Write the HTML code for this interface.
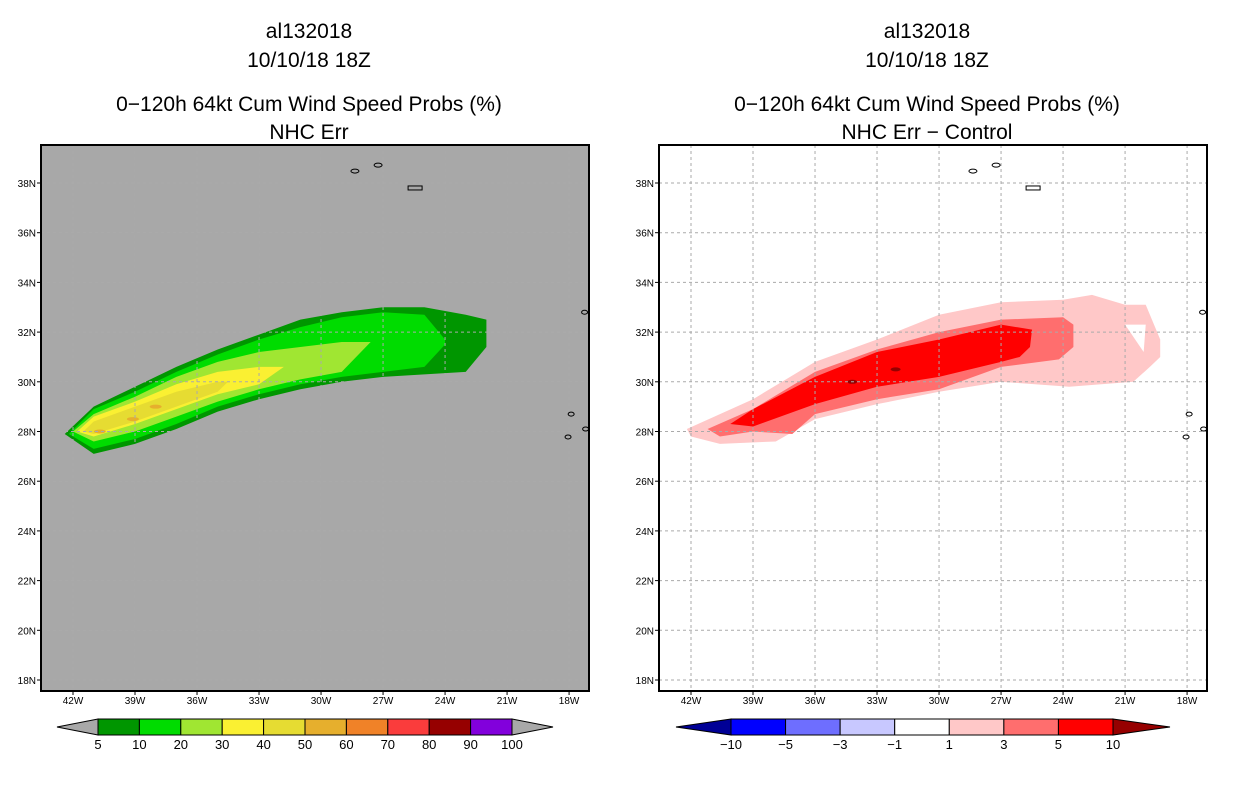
<!DOCTYPE html>
<html><head><meta charset="utf-8"><style>
body{margin:0;background:#fff;}
svg{display:block;font-family:"Liberation Sans",sans-serif;}
</style></head><body>
<svg id="s" width="1236" height="800"></svg>
<script>
// ---------- data ----------
const lonTicks=[-42,-39,-36,-33,-30,-27,-24,-21,-18];
const latTicks=[18,20,22,24,26,28,30,32,34,36,38];
const leftLevels=[5,10,20,30,40,50,60,70,80,90,100];
const leftColors=["#009600","#00dc00","#a0e632","#faf032","#e6dc32","#e6af2d","#f08228","#fa3c3c","#960000","#8200dc"];
const rightLevels=[-10,-5,-3,-1,1,3,5,10];
const rightColors=["#0000ff","#6e6eff","#c8c8ff","#ffffff","#ffc8c8","#ff6e6e","#ff0000"];
// left contour bands: lon array, top lat, bottom lat
const p5lon=[-42.4,-41,-39,-37,-35,-33,-31,-29,-27,-25,-23,-22];
const p5top=[27.9,29.0,29.8,30.6,31.3,31.9,32.5,32.8,33.0,33.0,32.7,32.5];
const p5bot=[27.9,27.1,27.5,28.1,28.8,29.3,29.7,30.0,30.2,30.3,30.4,31.4];
const p10lon=[-42.2,-41,-39,-37,-35,-33,-31,-29,-27,-25,-24];
const p10top=[27.9,28.9,29.6,30.4,31.1,31.7,32.2,32.6,32.8,32.7,31.7];
const p10bot=[27.9,27.3,27.7,28.3,29.0,29.5,29.9,30.2,30.4,30.6,31.5];
const p20lon=[-42,-41,-39,-37,-35,-33,-31,-29,-27.6];
const p20top=[28.0,28.7,29.4,30.2,30.8,31.2,31.4,31.6,31.6];
const p20bot=[28.0,27.6,28.0,28.6,29.2,29.7,30.1,30.4,31.6];
const p30lon=[-41.8,-41,-39,-37,-35,-33,-31.8];
const p30top=[28.0,28.6,29.2,29.9,30.4,30.6,30.6];
const p30bot=[28.0,27.8,28.3,28.9,29.5,29.9,30.6];
const p40lon=[-41.5,-41,-39,-37,-35,-34.5];
const p40top=[28.0,28.4,29.0,29.6,30.0,30.0];
const p40bot=[28.0,27.9,28.4,29.0,29.6,30.0];
const p50lon=[-40.7,-39.1,-38.0];
const p50lat=[28.0,28.5,29.0];
// right difference contours (closed polygons lon/lat)
const d1lon=[-42.2,-39,-36,-33,-30,-27,-24,-22.6,-21,-20,-19.3,-19.3,-19.8,-20.6,-23.7,-27,-30,-33,-36,-37.9,-40.6,-42];
const d1lat=[28.1,29.3,30.8,31.7,32.7,33.2,33.3,33.5,33.1,33.1,31.7,31.0,30.6,30.0,29.8,30.0,29.6,29.1,28.5,27.6,27.5,27.8];
const holeLon=[-21.0,-20.0,-20.1];
const holeLat=[32.3,32.3,31.2];
const d3lon=[-41.2,-39,-36,-33,-30,-27,-24,-23.5,-23.5,-24.2,-27,-30,-33,-36,-37.1,-39,-40.6];
const d3lat=[28.1,28.9,30.4,31.3,32.0,32.5,32.6,32.3,31.4,30.9,30.6,29.7,29.3,28.7,27.9,28.0,27.8];
const d5lon=[-40.1,-39,-36,-33,-30,-27,-25.5,-25.6,-26.1,-27,-30,-33,-36,-39];
const d5lat=[28.3,28.9,30.2,31.2,31.7,32.3,32.1,31.4,31.0,30.8,30.2,29.8,29.1,28.2];
const d10lon=[-32.1,-34.2];
const d10lat=[30.5,30.0];
// islands
const isLon=[-28.36,-27.24,-17.9,-18.05,-17.2,-17.25];
const isLat=[38.48,38.72,28.7,27.78,28.1,32.8];

// ---------- drawing ----------
const NS="http://www.w3.org/2000/svg";
const svg=document.getElementById('s');
function mk(tag,attrs,parent){const e=document.createElementNS(NS,tag);for(const k in attrs)e.setAttribute(k,attrs[k]);(parent||svg).appendChild(e);return e;}
function txt(x,y,s,size,anchor,parent){const t=mk('text',{x:x,y:y,'font-size':size,'text-anchor':anchor||'middle',fill:'#000'},parent);t.textContent=s;return t;}

function panel(ox,bg,titleLines,name){
  const g=mk('g',{});
  
  
  const L=ox, R=ox+548, T=145, B=691;
  const X=lon=>ox+32+(lon+42)*20.67;
  const Y=lat=>680-(lat-18)*24.85;
  const cx=ox+268;
  titleLines.forEach((s,i)=>{const t=txt(cx,[38,67,111,139][i],s,21,'middle',g);
    
    });
  const clip=mk('clipPath',{id:'c'+name},g);mk('rect',{x:L,y:T,width:548,height:546},clip);
  const pa=mk('g',{'clip-path':'url(#c'+name+')'},g);
  mk('rect',{x:L,y:T,width:548,height:546,fill:bg},pa);
  return {g,pa,X,Y,L,R,T,B};
}
function band(p,lons,top,bot,color,name){
  const pts=[];
  for(let i=0;i<lons.length;i++)pts.push(p.X(lons[i])+','+p.Y(top[i]));
  for(let i=lons.length-1;i>=0;i--)pts.push(p.X(lons[i])+','+p.Y(bot[i]));
  const e=mk('polygon',{points:pts.join(' '),fill:color},p.pa);
  
  
}
function poly(p,lons,lats,color,name){
  const pts=lons.map((l,i)=>p.X(l)+','+p.Y(lats[i]));
  const e=mk('polygon',{points:pts.join(' '),fill:color},p.pa);
  
  
}
function blobs(p,lons,lats,color,name,rx){
  lons.forEach((l,i)=>{const e=mk('ellipse',{cx:p.X(l),cy:p.Y(lats[i]),rx:rx,ry:2,fill:color},p.pa);
    
    });
}
function finish(p,gridColor){
  lonTicks.forEach(l=>{const e=mk('line',{x1:p.X(l),x2:p.X(l),y1:p.T,y2:p.B,stroke:gridColor,'stroke-width':1,'stroke-dasharray':'3,3'},p.pa);
    
    });
  latTicks.forEach(l=>{const e=mk('line',{x1:p.L,x2:p.R,y1:p.Y(l),y2:p.Y(l),stroke:gridColor,'stroke-width':1,'stroke-dasharray':'3,3'},p.pa);
    
    });
  isLon.forEach((l,i)=>{const w=(i===1||i===0)?4:3;const e=mk('ellipse',{cx:p.X(l),cy:p.Y(isLat[i]),rx:w,ry:2,fill:'none',stroke:'#000','stroke-width':1},p.pa);
    
    });
  const e2=mk('rect',{x:p.X(-25.45)-7,y:p.Y(37.8)-2,width:14,height:4,fill:'none',stroke:'#000','stroke-width':1},p.pa);
  
  
  const fr=mk('rect',{x:p.L,y:p.T,width:548,height:546,fill:'none',stroke:'#000','stroke-width':2},p.g);
  
  
  lonTicks.forEach(l=>{mk('line',{x1:p.X(l),x2:p.X(l),y1:p.B,y2:p.B+4,stroke:'#000'},p.g);
    const t=txt(p.X(l),p.B+13,(-l)+'W',10,'middle',p.g);
    
    });
  latTicks.forEach(l=>{mk('line',{x1:p.L-4,x2:p.L,y1:p.Y(l),y2:p.Y(l),stroke:'#000'},p.g);
    const t=txt(p.L-5,p.Y(l)+4,l+'N',10,'end',p.g);
    
    });
}
function colorbar(x0,w,levels,colors,leftArrow,rightArrow,arrowL,arrowR,name){
  const g=mk('g',{});
  
  
  const y0=719,h=16,n=colors.length,seg=w/n;
  mk('polygon',{points:`${x0},${y0} ${x0-arrowL},${y0+h/2} ${x0},${y0+h}`,fill:leftArrow,stroke:'#000','stroke-width':1},g);
  mk('polygon',{points:`${x0+w},${y0} ${x0+w+arrowR},${y0+h/2} ${x0+w},${y0+h}`,fill:rightArrow,stroke:'#000','stroke-width':1},g);
  colors.forEach((c,i)=>{mk('rect',{x:x0+i*seg,y:y0,width:seg,height:h,fill:c,stroke:'#000','stroke-width':1},g);});
  levels.forEach((v,i)=>{const t=txt(x0+i*seg,y0+h+14,v<0?'\u2212'+(-v):String(v),13,'middle',g);
    
    });
}

// left panel
const pl=panel(41,'#a8a8a8',['al132018','10/10/18 18Z','0\u2212120h 64kt Cum Wind Speed Probs (%)','NHC Err'],'left-panel');
band(pl,p5lon,p5top,p5bot,leftColors[0],'contour-5pct');
band(pl,p10lon,p10top,p10bot,leftColors[1],'contour-10pct');
band(pl,p20lon,p20top,p20bot,leftColors[2],'contour-20pct');
band(pl,p30lon,p30top,p30bot,leftColors[3],'contour-30pct');
band(pl,p40lon,p40top,p40bot,leftColors[4],'contour-40pct');
blobs(pl,p50lon,p50lat,leftColors[5],'contour-50pct',6);
finish(pl,'#aaaaaa');
colorbar(98,414,leftLevels,leftColors,'#a8a8a8','#a8a8a8',41,41,'left-colorbar');

// right panel
const pr=panel(659,'#ffffff',['al132018','10/10/18 18Z','0\u2212120h 64kt Cum Wind Speed Probs (%)','NHC Err \u2212 Control'],'right-panel');
poly(pr,d1lon,d1lat,rightColors[4],'diff-1');
poly(pr,holeLon,holeLat,'#ffffff','diff-hole');
poly(pr,d3lon,d3lat,rightColors[5],'diff-3');
poly(pr,d5lon,d5lat,rightColors[6],'diff-5');
blobs(pr,d10lon,d10lat,'#960000','diff-10',5);
finish(pr,'#aaaaaa');
colorbar(731,382,rightLevels,rightColors,'#000096','#960000',55,57,'right-colorbar');
</script>
</body></html>
